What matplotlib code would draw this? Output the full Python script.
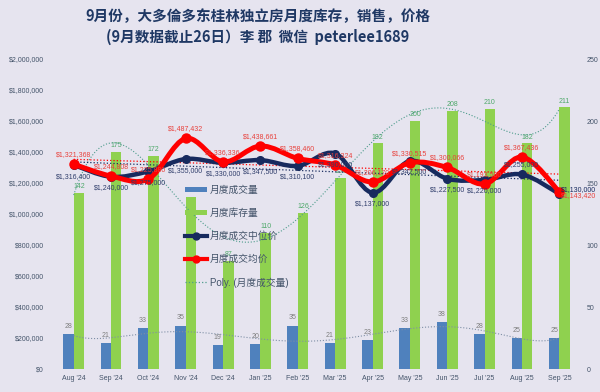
import numpy as np
import matplotlib
matplotlib.use("Agg")
import matplotlib.pyplot as plt
from matplotlib.path import Path
from matplotlib.patches import PathPatch, Patch
from matplotlib.lines import Line2D
from matplotlib.ticker import FuncFormatter, MultipleLocator

plt.rcParams['font.family'] = ['Liberation Sans', 'Noto Sans CJK SC']

months = ["Aug '24", "Sep '24", "Oct '24", "Nov '24", "Dec '24", "Jan '25", "Feb '25",
          "Mar '25", "Apr '25", "May '25", "Jun '25", "Jul '25", "Aug '25", "Sep '25"]
sales = [28, 21, 33, 35, 19, 20, 35, 21, 23, 33, 38, 28, 25, 25]
inventory = [142, 175, 172, 139, 87, 110, 126, 154, 182, 200, 208, 210, 182, 211]
median_price = [1316400, 1240000, 1275000, 1355000, 1330000, 1347500, 1310100,
                1390000, 1137000, 1342500, 1227500, 1220000, 1255000, 1130000]
mean_price = [1321368, 1244808, 1225880, 1487432, 1336336, 1438661, 1358460,
              1316324, 1206170, 1330515, 1300066, 1193500, 1367436, 1143420]

BG = '#e6e4ef'
BLUE = '#4f81bd'
GREEN = '#8fd14f'
NAVY = '#172a5e'
RED = '#ff0000'
TXT = '#44546a'


def smooth_path(x, y):
    """Excel-like smoothed line as bezier path"""
    px = np.concatenate([[x[0]], x, [x[-1]]])
    py = np.concatenate([[y[0]], y, [y[-1]]])
    verts = [(x[0], y[0])]
    codes = [Path.MOVETO]
    for i in range(1, len(px) - 2):
        c1 = (px[i] + (px[i + 1] - px[i - 1]) / 6, py[i] + (py[i + 1] - py[i - 1]) / 6)
        c2 = (px[i + 1] - (px[i + 2] - px[i]) / 6, py[i + 1] - (py[i + 2] - py[i]) / 6)
        verts += [c1, c2, (px[i + 1], py[i + 1])]
        codes += [Path.CURVE4] * 3
    return Path(verts, codes)


fig = plt.figure(figsize=(6, 3.92), dpi=100, facecolor=BG)
ax2 = fig.add_axes([55 / 600, 1 - 369 / 392, 523 / 600, 310 / 392])
ax = ax2.twinx()
ax2.set_facecolor(BG)
ax.set_zorder(ax2.get_zorder() + 1)
ax.patch.set_visible(False)

x = np.arange(len(months))
w = 0.28

# bars on right axis
ax2.bar(x - w / 2, sales, w, color=BLUE, zorder=2)
ax2.bar(x + w / 2, inventory, w, color=GREEN, zorder=2)
for i in range(len(x)):
    ax2.annotate(str(sales[i]), (x[i] - w / 2, sales[i]), xytext=(0, 3),
                 textcoords='offset points', ha='center', va='bottom', fontsize=5, color='#7f7f7f')
    ax2.annotate(str(inventory[i]), (x[i] + w / 2, inventory[i]), xytext=(0, 2),
                 textcoords='offset points', ha='center', va='bottom', fontsize=5, color='#4ea86a')

# polynomial trendlines
xs = np.linspace(0, len(x) - 1, 300)
ax2.plot(xs, np.polyval(np.polyfit(x, inventory, 6), xs), ls=':', lw=0.8, color='#4e9c8c', zorder=3)
ax2.plot(xs, np.polyval(np.polyfit(x, sales, 6), xs), ls=':', lw=0.8, color='#7f8fa6', zorder=3)

ax2.set_ylim(0, 250)
ax2.yaxis.set_major_locator(MultipleLocator(50))
ax2.set_xlim(-0.5, len(x) - 0.5)
ax2.set_xticks(x)
ax2.set_xticklabels(months)
ax2.tick_params(axis='x', length=0, labelsize=5, colors=TXT, pad=4)
ax2.yaxis.tick_right()
ax2.tick_params(axis='y', length=0, labelsize=5, colors=TXT, pad=6)

# price lines on left axis
ax.yaxis.tick_left()
ax.set_ylim(0, 2000000)
ax.yaxis.set_major_locator(MultipleLocator(200000))
ax.yaxis.set_major_formatter(FuncFormatter(lambda v, p: "${:,.0f}".format(v)))
ax.tick_params(axis='y', length=0, labelsize=5, colors=TXT, pad=8)

for vals, col in [(median_price, NAVY), (mean_price, RED)]:
    fit = np.polyfit(x, vals, 1)
    ax.plot(xs, np.polyval(fit, xs), ls=':', lw=0.9, color=col, zorder=3)

ax.add_patch(PathPatch(smooth_path(x, median_price), fill=False, lw=3.2, color=NAVY,
                       capstyle='round', joinstyle='round', zorder=4))
ax.plot(x, median_price, 'o', ms=5.5, color=NAVY, zorder=4)
ax.add_patch(PathPatch(smooth_path(x, mean_price), fill=False, lw=3.6, color=RED,
                       capstyle='round', joinstyle='round', zorder=5))
ax.plot(x, mean_price, 'o', ms=6.5, color=RED, zorder=5)

last = len(x) - 1
for i in range(len(x)):
    if i == last:
        ax.annotate("${:,.0f}".format(median_price[i]), (x[i], median_price[i]), xytext=(1, 3),
                    textcoords='offset points', ha='left', va='center', fontsize=5, color=NAVY, zorder=6)
        ax.annotate("${:,.0f}".format(mean_price[i]), (x[i], mean_price[i]), xytext=(1, -3),
                    textcoords='offset points', ha='left', va='center', fontsize=5, color='#e8413c', zorder=6)
        continue
    dy = 7 if i == 12 else -8
    ax.annotate("${:,.0f}".format(median_price[i]), (x[i], median_price[i]), xytext=(0, dy),
                textcoords='offset points', ha='center', va='center', fontsize=5, color='#2f3d6b', zorder=6)
    ax.annotate("${:,.0f}".format(mean_price[i]), (x[i], mean_price[i]), xytext=(0, 7),
                textcoords='offset points', ha='center', va='center', fontsize=5, color='#e8413c', zorder=6)

for a in (ax, ax2):
    for s in a.spines.values():
        s.set_visible(False)

handles = [
    Patch(facecolor=BLUE, label='月度成交量'),
    Patch(facecolor=GREEN, label='月度库存量'),
    Line2D([], [], color=NAVY, lw=3, marker='o', ms=5, label='月度成交中位价'),
    Line2D([], [], color=RED, lw=3, marker='o', ms=5, label='月度成交均价'),
    Line2D([], [], color='#4e9c8c', lw=0.9, ls=':', label='Poly. (月度成交量)'),
]
leg = fig.legend(handles=handles, loc='upper left', bbox_to_anchor=(176 / 600, 1 - 176 / 392),
                 frameon=False, fontsize=7, labelspacing=1.35, handlelength=2.3,
                 handleheight=0.5, handletextpad=0.3)
for t in leg.get_texts():
    t.set_color(TXT)

fig.text(0.43, 1 - 16 / 392, '9月份，大多倫多东桂林独立房月度库存，销售，价格',
         ha='center', va='center', fontsize=10.5, fontweight='bold', color='#1f3864',
         family=['Noto Sans CJK SC'])
fig.text(0.43, 1 - 37 / 392, '(9月数据截止26日）李 郡  微信  peterlee1689',
         ha='center', va='center', fontsize=10.5, fontweight='bold', color='#1f3864',
         family=['Noto Sans CJK SC'])

fig.savefig('out.png', dpi=100, facecolor=BG)
